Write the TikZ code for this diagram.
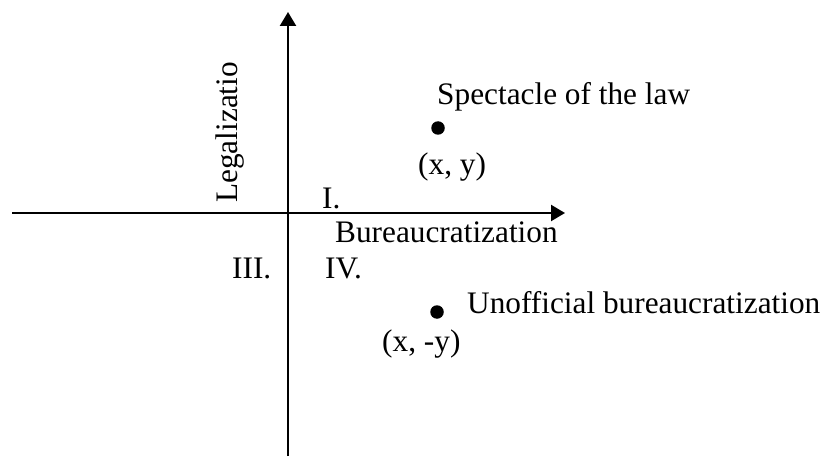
\documentclass[tikz,border=0pt]{standalone}
\usepackage{fontspec}
\setmainfont{Liberation Serif}
\usetikzlibrary{arrows.meta}
\tikzset{
  lbl/.style={inner sep=0pt, anchor=base west, font=\fontsize{31.3}{37}\selectfont},
  pt/.style={circle, fill=black, inner sep=0pt, minimum size=13.5pt},
  axis/.style={line width=2.3pt, -{Triangle[length=14pt,width=16pt]}}
}
\begin{document}
\begin{tikzpicture}[x=1pt, y=1pt]
    \useasboundingbox (0, 0) rectangle (821, 456);
    \coordinate (xl) at (12, 243);
    \coordinate (xr) at (565, 243);
    \coordinate (yb) at (288, 0);
    \coordinate (yt) at (288, 444);
    \draw[axis] (xl) -- (xr);
    \draw[axis] (yb) -- (yt);
    \node[lbl, rotate=90] (legal) at (237, 253) {Legalizatio};
    \node[lbl] (bur) at (335, 214) {Bureaucratization};
    \node[lbl] (q1) at (322, 248) {I.};
    \node[lbl] (q3) at (232, 178) {III.};
    \node[lbl] (q4) at (325, 178) {IV.};
    \node[pt] (p) at (438, 328) {};
    \node[lbl] (spec) at (437, 351) {Spectacle of the law};
    \node[lbl] (pxy) at (418, 282) {(x, y)};
    \node[pt] (m) at (437, 144) {};
    \node[lbl] (unoff) at (467, 143) {Unofficial bureaucratization};
    \node[lbl] (mxy) at (382, 105) {(x, -y)};
  \end{tikzpicture}
\end{document}
